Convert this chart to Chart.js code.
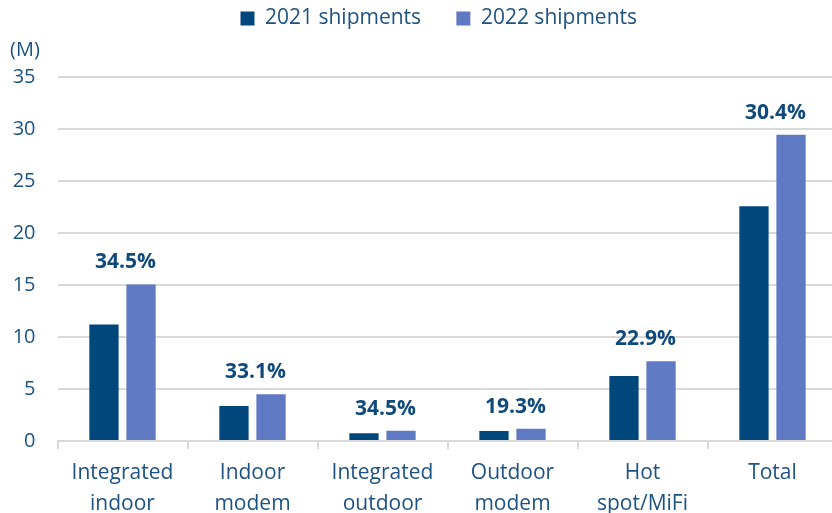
<!DOCTYPE html>
<html>
<head>
<meta charset="utf-8">
<script src="https://cdn.jsdelivr.net/npm/chart.js@4/dist/chart.umd.min.js"></script>
<style>
  html, body { margin: 0; padding: 0; background: #ffffff; }
  #wrap { width: 832px; height: 513px; position: relative; }
</style>
</head>
<body>
<div id="wrap"><canvas id="c" width="832" height="513"></canvas></div>
<script>
const categories = [['Integrated', 'indoor'], ['Indoor', 'modem'], ['Integrated', 'outdoor'], ['Outdoor', 'modem'], ['Hot', 'spot/MiFi'], ['Total']];
const shipments2021 = [11.2, 3.37, 0.74, 0.96, 6.26, 22.57];
const shipments2022 = [15.05, 4.49, 0.99, 1.18, 7.66, 29.45];
const growthLabels = ['34.5%', '33.1%', '34.5%', '19.3%', '22.9%', '30.4%'];
const seriesNames = ['2021 shipments', '2022 shipments'];
const yTicks = [0, 5, 10, 15, 20, 25, 30, 35];
const unitLabel = '(M)';

const FONT = "'Open Sans', 'Noto Sans', sans-serif";
const C2021 = '#00477c';
const C2022 = '#5f79c3';
const TEXT = '#1d5283';
const BOLD = '#104a7c';
const GRID = '#d9d9d9';

const growthPlugin = {
  id: 'growthLabels',
  afterDatasetsDraw(chart) {
    const ctx = chart.ctx;
    const meta = chart.getDatasetMeta(1);
    const xs = chart.scales.x;
    ctx.save();
    ctx.font = "bold 21px " + FONT;
    ctx.fillStyle = BOLD;
    ctx.textAlign = 'center';
    ctx.textBaseline = 'middle';
    growthLabels.forEach((t, i) => {
      const bar = meta.data[i];
      ctx.fillText(t, xs.getPixelForValue(i) + 3, bar.y - 22);
    });
    ctx.restore();
  }
};

const unitPlugin = {
  id: 'unitLabel',
  afterDraw(chart) {
    const ctx = chart.ctx;
    ctx.save();
    ctx.font = "20px " + FONT;
    ctx.fillStyle = TEXT;
    ctx.textAlign = 'left';
    ctx.textBaseline = 'middle';
    ctx.fillText(unitLabel, 10, 50);
    ctx.restore();
  }
};

const layoutTweak = {
  id: 'layoutTweak',
  beforeInit(chart) {
    const fit = chart.legend.fit;
    chart.legend.fit = function () {
      fit.bind(chart.legend)();
      this.height = 77;
    };
  },
  afterLayout(chart) {
    const RIGHT = 837.5;
    const xs = chart.scales.x;
    xs.right = RIGHT;
    xs.width = xs.right - xs.left;
    xs.configure();
    chart.chartArea.right = RIGHT;
    chart.chartArea.width = RIGHT - chart.chartArea.left;
    const lg = chart.legend;
    const shift = -6;
    lg.left += shift;
    lg.right += shift;
  }
};

new Chart(document.getElementById('c'), {
  type: 'bar',
  data: {
    labels: categories,
    datasets: [
      { label: seriesNames[0], data: shipments2021, backgroundColor: C2021, categoryPercentage: 0.57, barPercentage: 0.79 },
      { label: seriesNames[1], data: shipments2022, backgroundColor: C2022, categoryPercentage: 0.57, barPercentage: 0.79 }
    ]
  },
  options: {
    responsive: false,
    animation: false,
    devicePixelRatio: 1,
    layout: { padding: { left: 0, right: 0, top: 0, bottom: 0 } },
    plugins: {
      legend: {
        position: 'top',
        fullSize: false,
        labels: {
          font: { family: FONT, size: 21 },
          color: TEXT,
          boxWidth: 14,
          boxHeight: 14,
          padding: 8,
          generateLabels(chart) {
            const items = Chart.defaults.plugins.legend.labels.generateLabels(chart);
            items.forEach(it => { it.lineWidth = 0; });
            items[0].text = items[0].text + '     ';
            return items;
          }
        }
      },
      tooltip: { enabled: false },
      title: { display: false }
    },
    scales: {
      x: {
        grid: { offset: true, drawOnChartArea: false, drawTicks: true, tickLength: 8, color: GRID, lineWidth: 2 },
        border: { display: true, color: GRID, width: 2 },
        ticks: {
          font: { family: FONT, size: 21, lineHeight: 1.45 },
          color: TEXT,
          padding: 9,
          maxRotation: 0,
          autoSkip: false
        },
        afterFit(scale) { scale.height = 72; }
      },
      y: {
        min: 0,
        max: 35,
        afterBuildTicks(scale) { scale.ticks = yTicks.map(v => ({ value: v })); },
        grid: { color: GRID, lineWidth: 2, drawTicks: false },
        border: { display: false },
        ticks: {
          font: { family: FONT, size: 20 },
          color: TEXT,
          padding: 22
        },
        afterFit(scale) { scale.width = 57.5; }
      }
    }
  },
  plugins: [growthPlugin, unitPlugin, layoutTweak]
});
</script>
</body>
</html>
